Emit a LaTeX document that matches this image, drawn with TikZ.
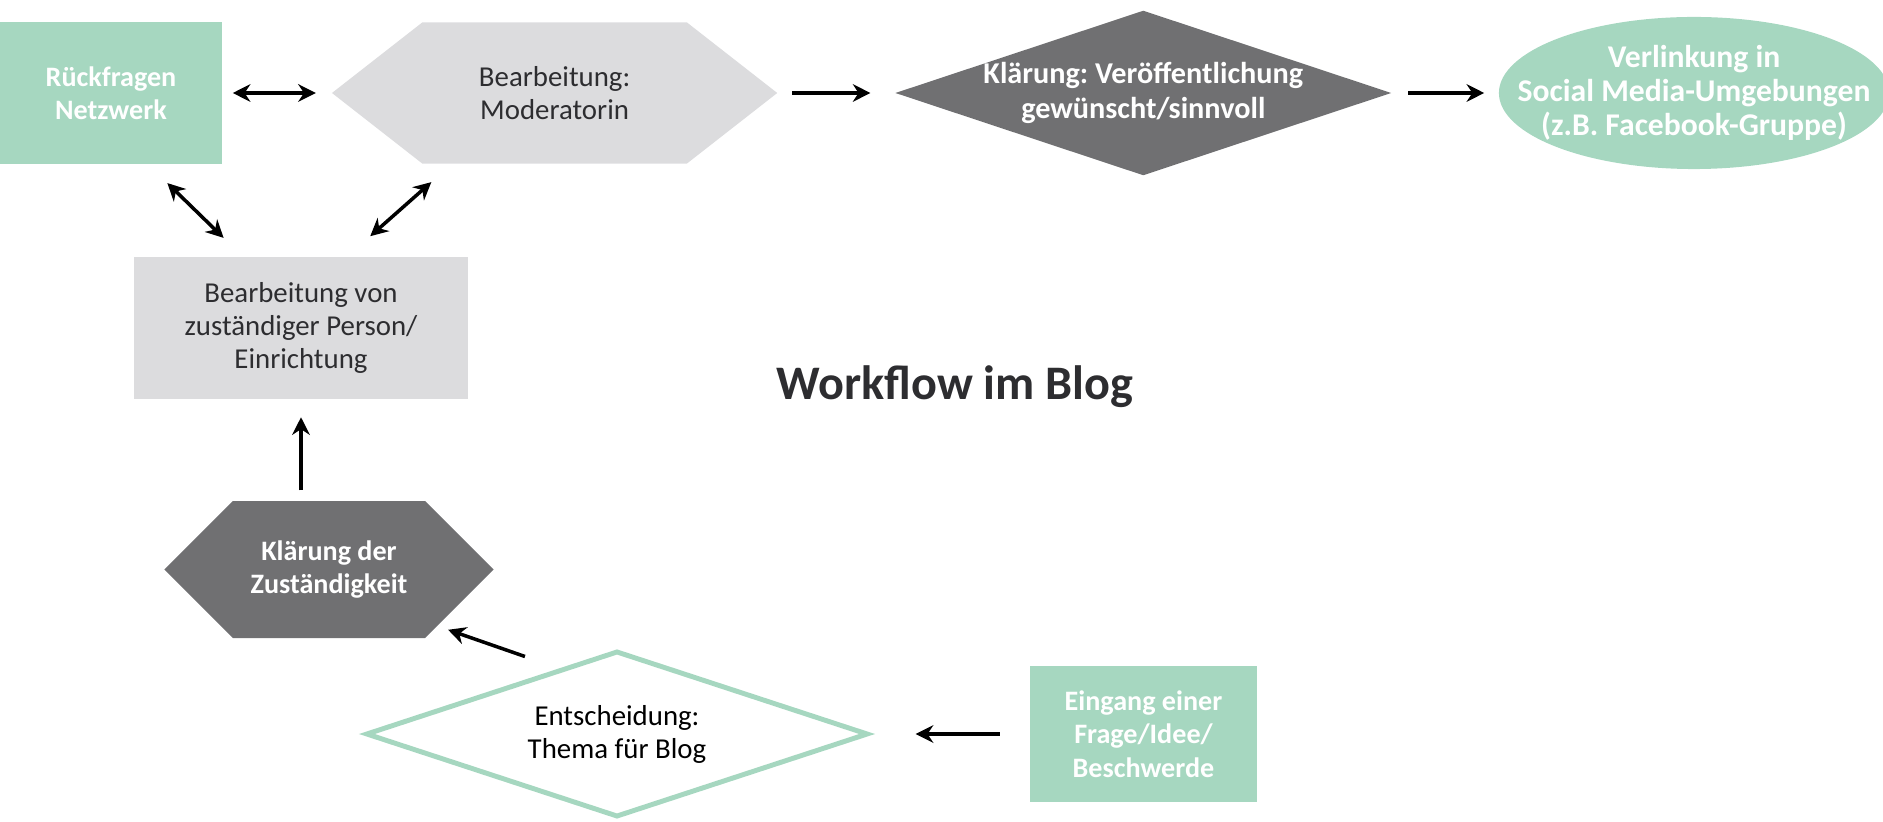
\documentclass[tikz,border=0pt]{standalone}
\usepackage{fontspec}
\setmainfont{Carlito}
\usetikzlibrary{shapes,shapes.geometric,shapes.symbols,arrows.meta,positioning,calc}
\definecolor{mint}{RGB}{166,215,192}
\definecolor{hellgrau}{RGB}{220,220,222}
\definecolor{dunkelgrau}{RGB}{112,112,114}
\definecolor{schrift}{RGB}{45,45,48}

\begin{document}
\frenchspacing
\begin{tikzpicture}[
    x=0.01cm,y=-0.01cm,
    >={Stealth[length=5pt,width=5pt]},
    pfeil/.style={line width=1pt,black},
    wtext/.style={align=center,text=white,font=\bfseries\fontsize{8}{9.5}\selectfont},
    dtext/.style={align=center,text=schrift,font=\fontsize{8.2}{9.4}\selectfont},
    greenbox/.style={rectangle,fill=mint,inner sep=0pt},
    graybox/.style={rectangle,fill=hellgrau,inner sep=0pt},
    hexa/.style={signal,signal to=west and east,inner sep=0pt},
    raute/.style={diamond,inner sep=0pt},
    oval/.style={ellipse,fill=mint,inner sep=0pt}]
    \useasboundingbox (0,0) rectangle (1883,822);

    % obere Reihe
    \node[label={[wtext]center:{Rückfragen\\Netzwerk}},greenbox,minimum width=2.22cm,minimum height=1.41cm] (rueck) at (111,93) {};
    \node[label={[dtext]center:{Bearbeitung:\\Moderatorin}},hexa,fill=hellgrau,signal pointer angle=76,minimum width=4.45cm,minimum height=1.41cm] (mod) [right=1.08cm of rueck] {};
    \node[label={[wtext,font=\bfseries\fontsize{8.6}{10}\selectfont]center:{Klärung: Veröffentlichung\\gewünscht/sinnvoll}},raute,fill=dunkelgrau,minimum width=4.96cm,minimum height=1.65cm] (klae) [right=1.16cm of mod] {};
    \node[label={[wtext,font=\bfseries\fontsize{9}{9.6}\selectfont]center:{Verlinkung in\\Social Media-Umgebungen\\(z.B. Facebook-Gruppe)}},oval,minimum width=3.9cm,minimum height=1.52cm] (ell) [right=1.06cm of klae] {};

    % linke Spalte
    \node[label={[dtext]center:{Bearbeitung von\\zuständiger Person/\\Einrichtung}},graybox,minimum width=3.34cm,minimum height=1.41cm] (bearb) at (301,328) {};
    \node[label={[wtext]center:{Klärung der\\Zuständigkeit}},hexa,fill=dunkelgrau,signal pointer angle=90,minimum width=3.29cm,minimum height=1.37cm] (klz) [below=1.01cm of bearb,xshift=0.28cm] {};

    % untere Reihe
    \node[label={[dtext,text=black]center:{Entscheidung:\\Thema für Blog}},raute,draw=mint,line width=1.4pt,fill=white,minimum width=5.02cm,minimum height=1.66cm] (entsch) at (617,734) {};
    \node[label={[wtext]center:{Eingang einer\\Frage/Idee/\\Beschwerde}},greenbox,minimum width=2.26cm,minimum height=1.35cm] (eingang) [right=1.59cm of entsch] {};

    \node[font=\bfseries\fontsize{13.7}{16}\selectfont,text=schrift] (titel) at (955,387) {Workflow im Blog};

    \draw[pfeil,<->,shorten <=0.1cm,shorten >=0.15cm] (rueck) -- (mod);
    \draw[pfeil,->,shorten <=0.14cm,shorten >=0.24cm] (mod) -- (klae);
    \draw[pfeil,->,shorten <=0.16cm,shorten >=0.14cm] (klae) -- (ell);
    \draw[pfeil,<->,shorten <=0.27cm,shorten >=0.27cm] ([xshift=-0.58cm]bearb.north) -- ([xshift=0.37cm]rueck.south);
    \draw[pfeil,<->,shorten <=0.31cm,shorten >=0.27cm] ([xshift=0.46cm]bearb.north) -- ([xshift=-1.03cm]mod.south);
    \draw[pfeil,->,shorten <=0.1cm,shorten >=0.18cm] (klz.north -| bearb.south) -- (bearb.south);
    \draw[pfeil,->] ([xshift=-0.92cm,yshift=-0.08cm]entsch.north) -- ([xshift=1.19cm,yshift=0.09cm]klz.south);
    \draw[pfeil,->,shorten <=0.3cm,shorten >=0.45cm] (eingang) -- (entsch);
\end{tikzpicture}
\end{document}
